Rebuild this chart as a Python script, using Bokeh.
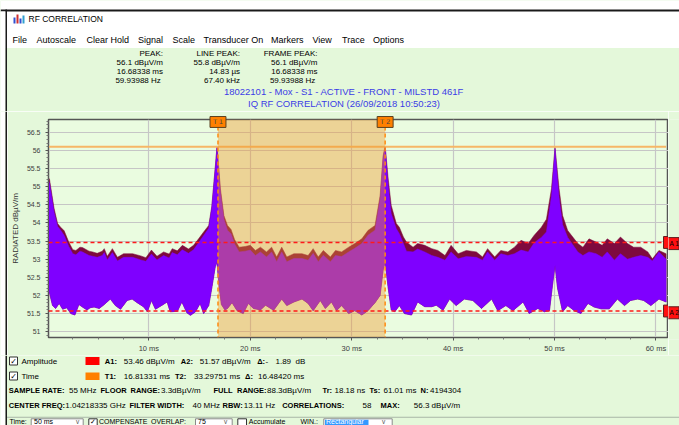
from bokeh.plotting import figure
from bokeh.layouts import column, row
from bokeh.models import (Range1d, FixedTicker, Span, Label,
                          NumeralTickFormatter, PrintfTickFormatter)
from bokeh.embed import file_html
from bokeh.resources import INLINE

# ---------------- data ----------------
t_max = [0.0, 0.2, 0.65, 1.0, 1.3, 1.65, 2.1, 2.5, 2.8, 3.2,
         3.45, 4.1, 4.45, 4.9, 5.4, 5.6, 5.9, 6.4, 6.9, 7.5,
         8.4, 9.2, 9.7, 10.25, 10.8, 11.45, 12.0, 12.3, 12.8, 13.3,
         13.9, 14.4, 14.9, 15.4, 15.9, 16.2, 16.5, 16.72, 17.05, 17.4,
         17.75, 18.1, 18.45, 18.9, 19.5, 20.0, 20.5, 21.0, 21.6, 22.1,
         22.6, 23.1, 23.6, 24.3, 25.1, 25.7, 26.2, 26.7, 27.2, 27.9,
         28.4, 29.0, 29.7, 30.3, 31.0, 31.6, 32.3, 32.8, 33.1, 33.3,
         33.6, 33.9, 34.4, 34.7, 35.1, 35.4, 36.05, 36.5, 37.2, 37.9,
         38.5, 39.2, 39.8, 40.5, 41.3, 42.3, 42.9, 43.4, 44.1, 44.7,
         45.4, 46.05, 46.7, 47.4, 48.0, 48.7, 49.2, 49.7, 50.05, 50.45,
         50.8, 51.3, 51.8, 52.3, 52.8, 53.4, 54.1, 54.7, 55.2, 55.9,
         56.5, 57.2, 57.8, 58.5, 59.2, 59.65, 60.3, 61.0]
# max-hold envelope (dark red)
v_max = [55.28, 55.2, 54.4, 53.98, 53.88, 53.78, 53.47, 53.26, 53.24, 53.33,
         53.32, 53.22, 53.2, 53.16, 53.22, 53.29, 53.08, 53.29, 53.05, 53.15,
         53.15, 53.09, 53.04, 53.25, 53.08, 53.2, 53.14, 53.29, 53.23, 53.38,
         53.28, 53.38, 53.56, 53.75, 53.93, 54.45, 55.4, 56.12, 54.95, 54.2,
         53.93, 53.82, 53.54, 53.33, 53.35, 53.38, 53.24, 53.33, 53.2, 53.33,
         53.06, 53.33, 53.06, 53.15, 53.15, 53.1, 53.29, 53.06, 53.24, 53.06,
         53.24, 53.2, 53.33, 53.43, 53.56, 53.79, 53.93, 54.75, 55.85, 56.12,
         55.21, 54.48, 53.98, 53.88, 53.61, 53.47, 53.33, 53.43, 53.38, 53.29,
         53.24, 53.1, 53.38, 53.15, 53.24, 53.2, 53.06, 53.29, 53.06, 53.24,
         53.2, 53.33, 53.52, 53.43, 53.66, 53.88, 54.1, 54.94, 56.08, 54.94,
         54.2, 53.79, 53.61, 53.43, 53.33, 53.56, 53.47, 53.38, 53.56, 53.43,
         53.61, 53.43, 53.33, 53.33, 53.2, 53.01, 53.24, 53.15]
# live trace upper edge (purple)
v_top = [55.2, 55.1, 54.3, 53.9, 53.8, 53.65, 53.35, 53.15, 53.12, 53.22,
         53.2, 53.1, 53.08, 53.05, 53.1, 53.18, 52.98, 53.18, 52.95, 53.05,
         53.05, 52.98, 52.94, 53.14, 52.98, 53.1, 53.03, 53.18, 53.12, 53.26,
         53.16, 53.26, 53.45, 53.65, 53.85, 54.4, 55.35, 56.08, 54.85, 54.1,
         53.8, 53.7, 53.42, 53.2, 53.22, 53.25, 53.1, 53.2, 53.06, 53.2,
         52.93, 53.2, 52.93, 53.02, 53.02, 52.97, 53.16, 52.93, 53.11, 52.93,
         53.1, 53.07, 53.2, 53.3, 53.43, 53.66, 53.8, 54.65, 55.8, 56.08,
         55.03, 54.25, 53.84, 53.7, 53.43, 53.22, 53.2, 53.28, 53.2, 53.1,
         53.05, 52.97, 53.2, 53.01, 53.07, 53.05, 52.97, 53.2, 52.97, 53.15,
         53.1, 53.15, 53.25, 53.2, 53.45, 53.6, 53.75, 54.75, 56.04, 54.7,
         53.95, 53.6, 53.4, 53.2, 53.1, 53.2, 53.15, 53.05, 53.2, 52.97,
         53.15, 53.0, 53.05, 53.1, 53.05, 52.95, 53.2, 53.0]
# live trace lower edge
t_low = [0.0, 0.1, 0.3, 0.5, 0.8, 1.15, 1.5, 1.9, 2.3, 2.7,
         3.1, 3.45, 3.9, 4.2, 4.6, 5.1, 5.6, 6.2, 6.7, 7.2,
         7.85, 8.35, 8.85, 9.5, 9.85, 10.25, 10.65, 11.3, 11.8, 12.1,
         12.8, 13.25, 13.75, 14.1, 14.6, 15.05, 15.4, 15.9, 16.2, 16.55,
         16.72, 16.9, 17.15, 17.5, 17.75, 18.2, 18.7, 19.3, 19.8, 20.3,
         21.0, 21.5, 22.3, 23.1, 23.6, 24.3, 25.1, 25.7, 26.2, 26.9,
         27.4, 28.0, 28.5, 29.0, 29.7, 30.3, 31.0, 31.6, 32.3, 32.8,
         33.1, 33.3, 33.6, 33.9, 34.25, 34.7, 35.2, 35.9, 36.5, 37.2,
         37.9, 38.35, 39.0, 39.65, 40.3, 41.1, 41.95, 42.8, 43.8, 44.4,
         45.2, 45.9, 46.9, 47.5, 48.35, 49.0, 49.5, 49.8, 50.05, 50.3,
         50.8, 51.3, 51.95, 52.6, 53.3, 53.9, 54.6, 55.4, 56.2, 56.9,
         57.5, 58.2, 58.8, 59.5, 60.3, 61.0]
v_low = [52.45, 52.2, 51.95, 51.72, 51.64, 51.78, 51.62, 51.66, 51.5, 51.46,
         51.75, 51.68, 51.6, 51.66, 51.68, 51.64, 51.75, 51.9, 51.72, 51.62,
         51.86, 51.9, 51.8, 51.68, 51.55, 51.86, 51.62, 51.73, 51.82, 51.55,
         51.56, 51.82, 51.52, 51.45, 51.55, 51.78, 51.5, 51.72, 52.2, 52.8,
         52.92, 52.3, 51.75, 51.6, 51.64, 51.8, 51.58, 51.5, 51.78, 51.64,
         51.6, 51.73, 51.59, 51.9, 51.72, 51.82, 51.9, 51.78, 51.58, 51.86,
         51.64, 51.82, 51.58, 51.72, 51.5, 51.58, 51.46, 51.58, 51.8, 52.0,
         52.7, 52.92, 52.2, 51.6, 51.55, 51.72, 51.5, 51.46, 51.82, 51.69,
         51.69, 51.73, 51.59, 51.9, 51.72, 51.9, 51.86, 51.64, 51.9, 51.58,
         51.72, 51.58, 51.82, 51.5, 51.64, 51.55, 51.58, 52.28, 52.83, 52.2,
         51.55, 51.72, 51.58, 51.5, 51.78, 51.68, 51.63, 51.63, 51.9, 51.72,
         51.86, 51.9, 51.86, 51.72, 51.9, 51.82]

peak_level = 56.1
amp_markers = [53.46, 51.57]
amp_names = ["A 1", "A 2"]
time_markers = [16.81331, 33.29751]
time_names = ["T 1", "T 2"]

x_ticks = [10, 20, 30, 40, 50, 60]
x_minor = [2.5, 5, 7.5, 12.5, 15, 17.5, 22.5, 25, 27.5, 32.5, 35, 37.5,
           42.5, 45, 47.5, 52.5, 55, 57.5]
y_ticks = [51.0, 51.5, 52.0, 52.5, 53.0, 53.5, 54.0, 54.5, 55.0, 55.5, 56.0, 56.5]
y_minor = [50.9, 51.1, 51.2, 51.3, 51.4, 51.6, 51.7, 51.8, 51.9, 52.1, 52.2,
           52.3, 52.4, 52.6, 52.7, 52.8, 52.9, 53.1, 53.2, 53.3, 53.4, 53.6,
           53.7, 53.8, 53.9, 54.1, 54.2, 54.3, 54.4, 54.6, 54.7, 54.8, 54.9,
           55.1, 55.2, 55.3, 55.4, 55.6, 55.7, 55.8, 55.9, 56.1, 56.2, 56.3,
           56.4, 56.6, 56.7, 56.8]

assert len(t_max) == len(v_max) == len(v_top)
assert len(t_low) == len(v_low)

BG = "#E4F8DA"
PLOT_BG = "#EAFCE0"
FONT = "Liberation Sans"
CH_TOP, CH_BOT = 111, 355          # vertical extent of the chart row (page px)
FRAME_W, FRAME_H = 622, 220


# ---------------- helpers for the window chrome (pixel coordinates) ----------------
def strip(x0, x1, y0, y1, yr=None, top=0, bottom=0):
    f = figure(width=int(x1 - x0), height=int(y1 - y0), output_backend="svg",
               toolbar_location=None, title=None, x_range=Range1d(x0, x1),
               y_range=yr if yr is not None else Range1d(y1, y0),
               x_axis_type=None, y_axis_type=None, min_border=0,
               min_border_top=top, min_border_bottom=bottom, frame_align=False)
    f.grid.visible = False
    f.outline_line_color = None
    f.background_fill_color = BG
    f.border_fill_color = BG
    return f


def rect(f, x0, y0, x1, y1, fill, line=None, lw=1, **kw):
    f.quad(left=[x0], right=[x1], top=[y0], bottom=[y1], fill_color=fill,
           line_color=line, line_width=lw, **kw)


def txt(f, x, y, s, size=8, color="#000000", align="left", bold=False, font=FONT):
    f.add_layout(Label(x=x, y=y, text=s, text_font=font, text_font_size=f"{size}px",
                       text_color=color, text_align=align, text_baseline="middle",
                       text_font_style="bold" if bold else "normal"))


# ---------------- header ----------------
head = strip(0, 679, 0, CH_TOP)
rect(head, 0, 0, 679, 47.5, "#FFFFFF")
rect(head, 0, 9, 679, 11, "#1A1A1A")
rect(head, 0, 11, 5, CH_TOP, "#FFFFFF")
rect(head, 5, 9, 6.5, CH_TOP, "#1A1A1A")
rect(head, 13, 17, 15, 23, "#3050D0")
rect(head, 16, 14, 18, 23, "#D03030")
rect(head, 19, 18, 21, 23, "#3050D0")
rect(head, 22, 15, 24, 23, "#30A0D0")
txt(head, 28, 18.5, "RF CORRELATION", size=8.5)
menu = [("File", 12), ("Autoscale", 36), ("Clear Hold", 86), ("Signal", 137.5),
        ("Scale", 172), ("Transducer On", 203), ("Markers", 270.5), ("View", 312),
        ("Trace", 341.5), ("Options", 372.5)]
for name, mx in menu:
    txt(head, mx, 39.5, name, size=9)

peak_cols = [(162.5, "PEAK:", ["56.1 dBµV/m", "16.68338 ms", "59.93988  Hz"]),
             (239.5, "LINE PEAK:", ["55.8 dBµV/m", "14.83 µs", "67.40 kHz"]),
             (317, "FRAME PEAK:", ["56.1 dBµV/m", "16.68338 ms", "59.93988  Hz"])]
for cx, hd, vals in peak_cols:
    txt(head, cx, 52.5, hd, align="right")
    for i, v in enumerate(vals):
        txt(head, cx, 62 + 9 * i, v, align="right")

txt(head, 343.5, 91, "18022101 - Mox - S1 - ACTIVE - FRONT - MILSTD 461F", size=9.5,
    color="#3C3CE6", align="center")
txt(head, 343.5, 102.5, "IQ RF CORRELATION (26/09/2018 10:50:23)", size=9.5,
    color="#3C3CE6", align="center")

# ---------------- chart ----------------
p = figure(width=661, height=CH_BOT - CH_TOP, output_backend="svg", toolbar_location=None,
           title=None, x_range=Range1d(0.1, 61.24), y_range=Range1d(50.84, 56.85),
           min_border_left=39, min_border_right=0, min_border_top=8,
           min_border_bottom=16, frame_align=False)
p.background_fill_color = PLOT_BG
p.border_fill_color = BG
p.outline_line_color = "#555555"
p.outline_line_width = 1.5

xa, ya = p.xaxis[0], p.yaxis[0]
xa.ticker = FixedTicker(ticks=x_ticks, minor_ticks=x_minor)
ya.ticker = FixedTicker(ticks=y_ticks, minor_ticks=y_minor)
xa.formatter = PrintfTickFormatter(format="%d ms")
ya.formatter = NumeralTickFormatter(format="0.[0]")
for ax in (xa, ya):
    ax.axis_line_color = "#555555"
    ax.major_tick_line_color = "#555555"
    ax.minor_tick_line_color = "#777777"
    ax.major_tick_in = 0
    ax.minor_tick_in = 0
    ax.major_tick_out = 3
    ax.minor_tick_out = 2
    ax.major_label_text_font = FONT
    ax.major_label_text_color = "#404040"
xa.major_label_text_font_size = "7.5px"
ya.major_label_text_font_size = "7px"
xa.major_label_standoff = 3
ya.major_label_standoff = 5
ya.axis_label = "RADIATED dBµV/m"
ya.axis_label_text_font = FONT
ya.axis_label_text_font_size = "8px"
ya.axis_label_text_font_style = "normal"
ya.axis_label_text_color = "#333333"
ya.axis_label_standoff = 4
p.xgrid.grid_line_color = "#C6C6C6"
p.ygrid.grid_line_color = "#C6C6C6"
p.xgrid.grid_line_width = 1.2
p.ygrid.grid_line_width = 1.2

p.patch(x=t_max + t_low[::-1], y=v_max + v_low[::-1],
        fill_color="#7E0A3E", line_color="#7E0A3E", line_width=0.5)
p.patch(x=t_max + t_low[::-1], y=v_top + v_low[::-1],
        fill_color="#7F00FF", line_color="#7F00FF", line_width=0.5)
p.line(x=[t_max[0], t_max[-1]], y=[peak_level, peak_level],
       line_color="#F6B766", line_width=2)
p.quad(left=[time_markers[0]], right=[time_markers[1]],
       bottom=[p.y_range.start], top=[p.y_range.end],
       fill_color="#F09628", fill_alpha=0.4, line_color=None)

for a in amp_markers:
    p.add_layout(Span(location=a, dimension="width", line_color="#FF1A1A",
                      line_dash="4 3", line_width=1.5))
for t in time_markers:
    p.add_layout(Span(location=t, dimension="height", line_color="#FF8A10",
                      line_dash="4 3", line_width=1.5))

px_x = (p.x_range.end - p.x_range.start) / FRAME_W
px_y = (p.y_range.end - p.y_range.start) / FRAME_H
# time marker tags: 16 x 11 px boxes hanging from the frame top
for t, name in zip(time_markers, time_names):
    rect(p, t - 8 * px_x, p.y_range.end + 3 * px_y, t + 8 * px_x, p.y_range.end - 8 * px_y,
         "#FF8000", "#5A4020", level="overlay")
    p.add_layout(Label(x=t, y=FRAME_H - 4, x_units="data", y_units="screen", text=name,
                       text_font=FONT, text_font_size="7px", text_align="center",
                       text_baseline="middle", level="overlay"))

# strips left and right of the chart (window border / amplitude marker tags)
left = strip(0, 7, CH_TOP, CH_BOT)
rect(left, 0, CH_TOP, 5, CH_BOT, "#FFFFFF")
rect(left, 5, CH_TOP, 6.5, CH_BOT, "#1A1A1A")
right = strip(668, 679, 0, CH_BOT - CH_TOP, yr=p.y_range, top=8, bottom=16)

# amplitude tags: 16 px wide (5 px inside the frame), 12 px tall
for a, name in zip(amp_markers, amp_names):
    rect(p, p.x_range.end - 5 * px_x, a + 6 * px_y, p.x_range.end + 20 * px_x, a - 6 * px_y,
         "#FF1010", "#602020", level="overlay")
    rect(right, 660, a + 6 * px_y, 678.5, a - 6 * px_y, "#FF1010", "#602020")
    txt(right, 669, a, name, size=6.5)

# ---------------- footer ----------------
foot = strip(0, 679, CH_BOT, 425)
rect(foot, 0, CH_BOT, 5, 425, "#FFFFFF")
rect(foot, 5, CH_BOT, 6.5, 425, "#1A1A1A")
rect(foot, 9, 356.5, 17, 364.5, "#FFFFFF", "#333333")
rect(foot, 9, 371.5, 17, 379.5, "#FFFFFF", "#333333")
txt(foot, 13, 360.5, "✓", size=8, font="DejaVu Sans", align="center")
txt(foot, 13, 375.5, "✓", size=8, font="DejaVu Sans", align="center")
txt(foot, 21, 360.5, "Amplitude")
txt(foot, 21, 375.5, "Time")
rect(foot, 85, 356.5, 99, 364.5, "#FF0000")
rect(foot, 85, 372, 99, 379.5, "#FF8000")

row1 = [(104.3, "A1:", True), (123.3, "53.46 dBµV/m", False), (180.3, "A2:", True),
        (199.3, "51.57 dBµV/m", False), (256.7, "Δ:", True), (265, "-", False),
        (275, "1.89", False), (295, "dB", False)]
row2 = [(104.3, "T1:", True), (123.3, "16.81331 ms", False), (174.5, "T2:", True),
        (193.5, "33.29751 ms", False), (244.5, "Δ:", True), (257.5, "16.48420 ms", False)]
row3 = [(8.3, "SAMPLE RATE:", True), (68.5, "55 MHz", False), (100, "FLOOR", True),
        (130, "RANGE:", True), (160.5, "3.3dBµV/m", False), (213, "FULL", True),
        (236.5, "RANGE:", True), (266.5, "88.3dBµV/m", False), (322, "Tr:", True),
        (334, "18.18 ns", False), (369, "Ts:", True), (383, "61.01 ms", False),
        (420, "N:", True), (429.5, "4194304", False)]
row4 = [(8.3, "CENTER FREQ:", True), (64.8, "1.04218335 GHz", False),
        (129, "FILTER WIDTH:", True), (192, "40 MHz", False), (222, "RBW:", True),
        (243.3, "13.11  Hz", False), (281.7, "CORRELATIONS:", True), (362, "58", False),
        (380, "MAX:", True), (413.3, "56.3 dBµV/m", False)]
for ry, rw in ((360.5, row1), (375.5, row2), (390, row3), (404.5, row4)):
    for rx, s, b in rw:
        txt(foot, rx, ry, s, size=7.5 if b else 8, bold=b)

# control bar (at the window's lower edge)
CY = 420.8
rect(foot, 6.5, 416.3, 679, 417.3, "#A9B6A6")
txt(foot, 9, CY, "Time:", size=7)
rect(foot, 30.7, 418.3, 82.7, 430, "#FFFFFF", "#8A8A8A")
txt(foot, 33.5, CY, "50 ms", size=7)
txt(foot, 77, CY, "v", size=6.5, color="#555555", align="center")
rect(foot, 88.3, 418.3, 96.7, 427, "#FFFFFF", "#333333")
txt(foot, 92.5, CY + 0.5, "✓", size=7, font="DejaVu Sans", align="center")
txt(foot, 98.5, CY, "COMPENSATE", size=7)
txt(foot, 150.5, CY, "OVERLAP:", size=7)
rect(foot, 195, 418.3, 231.7, 430, "#FFFFFF", "#8A8A8A")
txt(foot, 197.5, CY, "75", size=7)
txt(foot, 225, CY, "v", size=6.5, color="#555555", align="center")
rect(foot, 237.3, 418.3, 246, 427, "#FFFFFF", "#333333")
txt(foot, 248.3, CY, "Accumulate", size=7)
txt(foot, 300, CY, "WIN.:", size=7)
rect(foot, 323.3, 418.3, 391.7, 430, "#FFFFFF", "#8A8A8A")
rect(foot, 324.5, 419.3, 368, 430, "#3399FF")
txt(foot, 325.5, CY, "Rectangular", size=7, color="#FFFFFF")
txt(foot, 383, CY, "v", size=6.5, color="#555555", align="center")

page = column(head, row(left, p, right, spacing=0), foot, spacing=0)
open("out.html", "w").write(file_html(page, INLINE))
